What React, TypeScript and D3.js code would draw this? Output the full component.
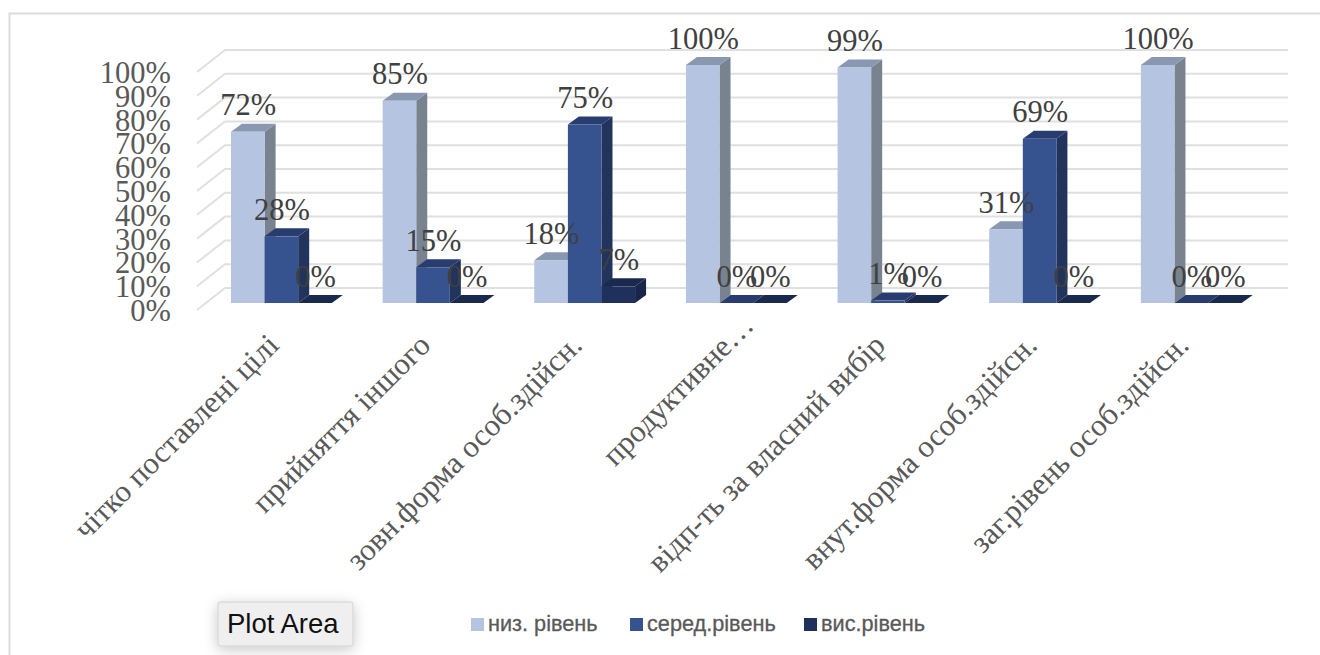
import React from "react";
import * as d3 from "d3";

const categories = [
  "чітко поставлені цілі",
  "прийняття іншого",
  "зовн.форма особ.здійсн.",
  "продуктивне…",
  "відп-ть за власний вибір",
  "внут.форма особ.здійсн.",
  "заг.рівень особ.здійсн.",
];
const lowLevel = [72, 85, 18, 100, 99, 31, 100];
const midLevel = [28, 15, 75, 0, 1, 69, 0];
const highLevel = [0, 0, 7, 0, 0, 0, 0];
const seriesNames = ["низ. рівень", "серед.рівень", "вис.рівень"];
const axisTicks = [0, 10, 20, 30, 40, 50, 60, 70, 80, 90, 100];

const seriesValues = [lowLevel, midLevel, highLevel];
const faces = [
  { front: "#b5c4e1", top: "#8a97b1", side: "#78838f" },
  { front: "#36538f", top: "#283c70", side: "#22345c" },
  { front: "#20305c", top: "#1a2a4e", side: "#18264a" },
];
const legendColors = ["#b5c4e1", "#36538f", "#20305c"];

const SERIF = "'Liberation Serif', serif";
const SANS = "'Liberation Sans', sans-serif";
const DEPTH_X = 11;
const DEPTH_Y = 8;
const BAR_W = 33.6;
const TRUNCATED_LABEL = 3;

// Front plane of the bars and the receding wall behind them
const y = d3.scaleLinear().domain([0, 100]).range([303, 65]);
const wallY = d3.scaleLinear().domain([0, 100]).range([288, 50]);
const axisY = d3.scaleLinear().domain([0, 100]).range([310, 72]);
const groupX = d3
  .scaleBand<number>()
  .domain(d3.range(categories.length))
  .range([155.5, 1217])
  .paddingInner(0)
  .paddingOuter(0);
const barOffset = d3.scaleLinear().domain([0, 1]).range([75.5, 75.5 + BAR_W]);
const legendX = [471, 630, 804];

const pct = (v: number) => `${v}%`;
const poly = (pts: [number, number][]) => d3.line()(pts) + "Z";

export default function App() {
  return (
    <svg
      width={1320}
      height={655}
      style={{ position: "absolute", left: 0, top: 0, background: "#fff" }}
    >
      <defs>
        <filter id="popupShadow" x="-30%" y="-50%" width="160%" height="220%">
          <feDropShadow dx="0" dy="3" stdDeviation="7" floodColor="#000" floodOpacity="0.22" />
        </filter>
      </defs>

      <path d="M9.5 655V13.5H1320" fill="none" stroke="#dcdcdc" strokeWidth={2} />

      {axisTicks.map((t) => (
        <path
          key={t}
          d={`M${197} ${axisY(t)}L225 ${wallY(t)}H1288`}
          fill="none"
          stroke="#e0e0e0"
          strokeWidth={2}
        />
      ))}
      {axisTicks.map((t) => (
        <text
          key={t}
          x={171}
          y={axisY(t) + 11}
          textAnchor="end"
          fontFamily={SERIF}
          fontSize={30.5}
          fill="#595959"
        >
          {pct(t)}
        </text>
      ))}

      {categories.map((_, g) => (
        <g key={g}>
          {seriesValues.map((vals, s) => {
            const x0 = (groupX(g) as number) + barOffset(s);
            const x1 = x0 + BAR_W;
            const top = y(vals[g]);
            const base = y(0);
            const f = faces[s];
            return (
              <g key={s}>
                <path
                  d={poly([
                    [x1, top],
                    [x1 + DEPTH_X, top - DEPTH_Y],
                    [x1 + DEPTH_X, base - DEPTH_Y],
                    [x1, base],
                  ])}
                  fill={f.side}
                />
                <path
                  d={poly([
                    [x0, top],
                    [x0 + DEPTH_X, top - DEPTH_Y],
                    [x1 + DEPTH_X, top - DEPTH_Y],
                    [x1, top],
                  ])}
                  fill={f.top}
                />
                <rect x={x0} y={top} width={BAR_W} height={base - top} fill={f.front} />
              </g>
            );
          })}
        </g>
      ))}

      {categories.map((_, g) =>
        seriesValues.map((vals, s) => (
          <text
            key={`${g}-${s}`}
            x={(groupX(g) as number) + barOffset(s) + BAR_W / 2 + 0.5}
            y={y(vals[g]) - 16.5}
            textAnchor="middle"
            fontFamily={SERIF}
            fontSize={30.5}
            fill="#404040"
          >
            {pct(vals[g])}
          </text>
        ))
      )}

      {categories.map((c, g) => {
        // The shortened label sits further along its slanted line than the others
        const shift = g === TRUNCATED_LABEL ? 20 : 0;
        return (
          <text
            key={c}
            transform={`translate(${(groupX(g) as number) + 125 + shift},${347 - shift}) rotate(-45)`}
            textAnchor="end"
            fontFamily={SERIF}
            fontSize={31}
            fill="#595959"
          >
            {c}
          </text>
        );
      })}

      {seriesNames.map((n, i) => (
        <g key={n}>
          <rect x={legendX[i]} y={618} width={13} height={13} fill={legendColors[i]} />
          <text
            x={legendX[i] + 17}
            y={631}
            fontFamily={SANS}
            fontSize={21.7}
            stroke="#595959"
            strokeWidth={0.3}
            fill="#595959"
          >
            {n}
          </text>
        </g>
      ))}

      <rect
        x={218}
        y={602}
        width={135}
        height={44}
        rx={2}
        fill="#efefef"
        stroke="#d0d0d0"
        filter="url(#popupShadow)"
      />
      <text x={227} y={633} fontFamily={SANS} fontSize={27.5} fill="#111">
        Plot Area
      </text>
    </svg>
  );
}
